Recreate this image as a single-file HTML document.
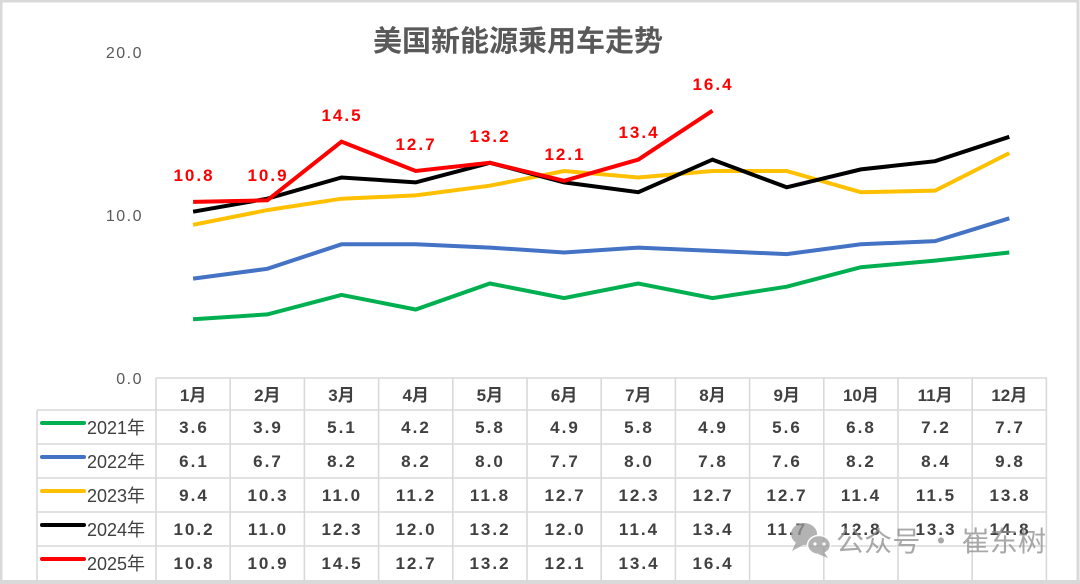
<!DOCTYPE html>
<html><head><meta charset="utf-8">
<style>
html,body{margin:0;padding:0;background:#fff;}
svg{display:block;}
text{font-family:"Liberation Sans","Noto Sans CJK SC",sans-serif;}
.cjk{font-family:"Noto Sans CJK SC","Liberation Sans",sans-serif;}
</style></head>
<body>
<svg width="1080" height="584" viewBox="0 0 1080 584" xmlns="http://www.w3.org/2000/svg">
<rect x="0" y="0" width="1080" height="584" fill="#fff"/>
<!-- outer border -->
<rect x="1" y="1" width="1077" height="581" fill="none" stroke="#d9d9d9" stroke-width="3"/>
<rect x="0" y="580" width="1080" height="4" fill="#d9d9d9"/>

<!-- title -->
<text class="cjk" x="518" y="51" text-anchor="middle" font-size="29" font-weight="bold" fill="#595959">美国新能源乘用车走势</text>

<!-- y axis labels -->
<g font-size="16" fill="#595959" text-anchor="end" letter-spacing="1.5">
<text x="143" y="58">20.0</text>
<text x="143" y="221">10.0</text>
<text x="143" y="384">0.0</text>
</g>

<!-- series lines -->
<g fill="none" stroke-width="4" stroke-linejoin="miter" stroke-linecap="butt">
<polyline stroke="#00b050" points="193.1,319.3 267.3,314.4 341.5,294.9 415.7,309.5 489.9,283.5 564.1,298.1 638.3,283.5 712.5,298.1 786.7,286.7 860.9,267.2 935.1,260.6 1009.3,252.5"/>
<polyline stroke="#4472c4" points="193.1,278.6 267.3,268.8 341.5,244.3 415.7,244.3 489.9,247.6 564.1,252.5 638.3,247.6 712.5,250.9 786.7,254.1 860.9,244.3 935.1,241.1 1009.3,218.3"/>
<polyline stroke="#ffc000" points="193.1,224.8 267.3,210.1 341.5,198.7 415.7,195.4 489.9,185.7 564.1,171.0 638.3,177.5 712.5,171.0 786.7,171.0 860.9,192.2 935.1,190.6 1009.3,153.1"/>
<polyline stroke="#000000" points="193.1,211.7 267.3,198.7 341.5,177.5 415.7,182.4 489.9,162.8 564.1,182.4 638.3,192.2 712.5,159.6 786.7,187.3 860.9,169.4 935.1,161.2 1009.3,136.8"/>
<polyline stroke="#ff0000" points="193.1,201.9 267.3,200.3 341.5,141.7 415.7,171.0 489.9,162.8 564.1,180.8 638.3,159.6 712.5,110.7"/>
</g>

<!-- data labels 2025 -->
<g font-size="17" font-weight="bold" fill="#ff0000" text-anchor="middle" letter-spacing="2">
<text x="194" y="181">10.8</text>
<text x="268" y="181">10.9</text>
<text x="342" y="121">14.5</text>
<text x="416" y="150">12.7</text>
<text x="490" y="142">13.2</text>
<text x="565" y="160">12.1</text>
<text x="639" y="138">13.4</text>
<text x="713" y="90">16.4</text>
</g>

<!-- table grid -->
<g stroke="#d9d9d9" stroke-width="1.6" fill="none">
<line x1="156" y1="378" x2="1047" y2="378"/>
<line x1="37" y1="410" x2="1047" y2="410"/>
<line x1="37" y1="444" x2="1047" y2="444"/>
<line x1="37" y1="478" x2="1047" y2="478"/>
<line x1="37" y1="512" x2="1047" y2="512"/>
<line x1="37" y1="546" x2="1047" y2="546"/>
<line x1="37" y1="410" x2="37" y2="580"/>
<line x1="156" y1="378" x2="156" y2="580"/>
<line x1="230.2" y1="378" x2="230.2" y2="580"/>
<line x1="304.4" y1="378" x2="304.4" y2="580"/>
<line x1="378.6" y1="378" x2="378.6" y2="580"/>
<line x1="452.8" y1="378" x2="452.8" y2="580"/>
<line x1="527" y1="378" x2="527" y2="580"/>
<line x1="601.2" y1="378" x2="601.2" y2="580"/>
<line x1="675.4" y1="378" x2="675.4" y2="580"/>
<line x1="749.6" y1="378" x2="749.6" y2="580"/>
<line x1="823.8" y1="378" x2="823.8" y2="580"/>
<line x1="898" y1="378" x2="898" y2="580"/>
<line x1="972.2" y1="378" x2="972.2" y2="580"/>
<line x1="1046.4" y1="378" x2="1046.4" y2="580"/>
</g>

<!-- header months -->
<g font-size="17" font-weight="bold" fill="#404040" text-anchor="middle">
<text x="193.1" y="401">1月</text>
<text x="267.3" y="401">2月</text>
<text x="341.5" y="401">3月</text>
<text x="415.7" y="401">4月</text>
<text x="489.9" y="401">5月</text>
<text x="564.1" y="401">6月</text>
<text x="638.3" y="401">7月</text>
<text x="712.5" y="401">8月</text>
<text x="786.7" y="401">9月</text>
<text x="860.9" y="401">10月</text>
<text x="935.1" y="401">11月</text>
<text x="1009.3" y="401">12月</text>
</g>

<!-- legend -->
<g stroke-width="4" stroke-linecap="round">
<line x1="42" y1="423" x2="84" y2="423" stroke="#00b050"/>
<line x1="42" y1="457" x2="84" y2="457" stroke="#4472c4"/>
<line x1="42" y1="491" x2="84" y2="491" stroke="#ffc000"/>
<line x1="42" y1="525" x2="84" y2="525" stroke="#000000"/>
<line x1="42" y1="559" x2="84" y2="559" stroke="#ff0000"/>
</g>
<g font-size="18" fill="#404040">
<text x="87" y="434">2021年</text>
<text x="87" y="468">2022年</text>
<text x="87" y="502">2023年</text>
<text x="87" y="536">2024年</text>
<text x="87" y="570">2025年</text>
</g>

<!-- table values -->
<g font-size="17" font-weight="bold" fill="#404040" text-anchor="middle" letter-spacing="2">
<g transform="translate(0,433)">
<text x="194" y="0">3.6</text><text x="268" y="0">3.9</text><text x="342" y="0">5.1</text><text x="416" y="0">4.2</text><text x="490" y="0">5.8</text><text x="565" y="0">4.9</text><text x="639" y="0">5.8</text><text x="713" y="0">4.9</text><text x="787" y="0">5.6</text><text x="861" y="0">6.8</text><text x="936" y="0">7.2</text><text x="1010" y="0">7.7</text>
</g>
<g transform="translate(0,467)">
<text x="194" y="0">6.1</text><text x="268" y="0">6.7</text><text x="342" y="0">8.2</text><text x="416" y="0">8.2</text><text x="490" y="0">8.0</text><text x="565" y="0">7.7</text><text x="639" y="0">8.0</text><text x="713" y="0">7.8</text><text x="787" y="0">7.6</text><text x="861" y="0">8.2</text><text x="936" y="0">8.4</text><text x="1010" y="0">9.8</text>
</g>
<g transform="translate(0,501)">
<text x="194" y="0">9.4</text><text x="268" y="0">10.3</text><text x="342" y="0">11.0</text><text x="416" y="0">11.2</text><text x="490" y="0">11.8</text><text x="565" y="0">12.7</text><text x="639" y="0">12.3</text><text x="713" y="0">12.7</text><text x="787" y="0">12.7</text><text x="861" y="0">11.4</text><text x="936" y="0">11.5</text><text x="1010" y="0">13.8</text>
</g>
<g transform="translate(0,535)">
<text x="194" y="0">10.2</text><text x="268" y="0">11.0</text><text x="342" y="0">12.3</text><text x="416" y="0">12.0</text><text x="490" y="0">13.2</text><text x="565" y="0">12.0</text><text x="639" y="0">11.4</text><text x="713" y="0">13.4</text><text x="787" y="0">11.7</text><text x="861" y="0">12.8</text><text x="936" y="0">13.3</text><text x="1010" y="0">14.8</text>
</g>
<g transform="translate(0,569)">
<text x="194" y="0">10.8</text><text x="268" y="0">10.9</text><text x="342" y="0">14.5</text><text x="416" y="0">12.7</text><text x="490" y="0">13.2</text><text x="565" y="0">12.1</text><text x="639" y="0">13.4</text><text x="713" y="0">16.4</text>
</g>
</g>

<!-- watermark -->
<g opacity="0.75">
<ellipse cx="804" cy="534" rx="13" ry="11" fill="#9a9a9a"/>
<path d="M796,542 L792,551 L803,545 Z" fill="#9a9a9a"/>
<ellipse cx="819" cy="545" rx="11.5" ry="9.5" fill="#9a9a9a" stroke="#fff" stroke-width="1.5"/>
<path d="M824,552 L828,558 L818,554 Z" fill="#9a9a9a"/>
<circle cx="815" cy="544" r="1.6" fill="#fff"/>
<circle cx="824" cy="544" r="1.6" fill="#fff"/>
<text class="cjk" x="836" y="551" font-size="28" fill="#8c8c8c" textLength="210" lengthAdjust="spacing">公众号 · 崔东树</text>
</g>
</svg>
</body></html>
